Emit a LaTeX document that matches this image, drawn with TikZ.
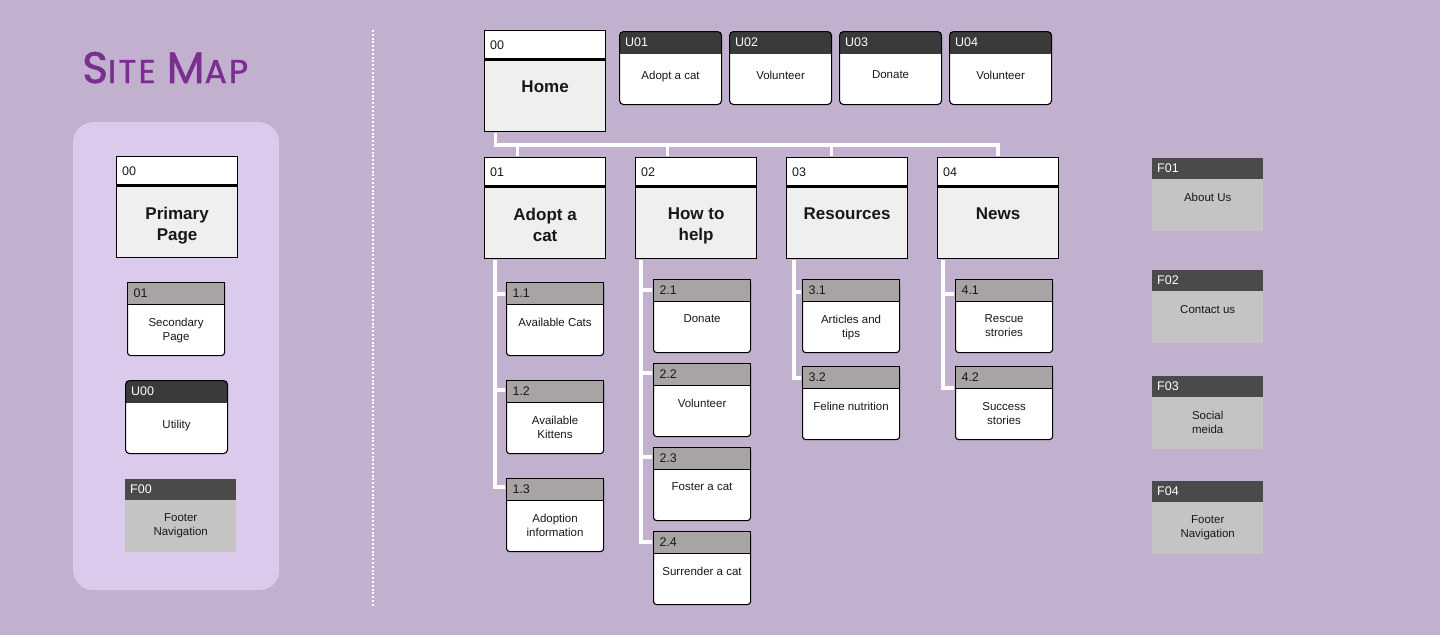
\documentclass[tikz,border=0pt]{standalone}
\usepackage{fontspec}
\setmainfont{Liberation Sans}
\newfontfamily\titlefont{Poppins}[FakeBold=1.2, LetterSpace=7]
\usetikzlibrary{positioning}
\definecolor{bgcol}{RGB}{193,177,207}
\definecolor{panelcol}{RGB}{220,202,237}
\definecolor{titlecol}{RGB}{122,46,143}
\definecolor{primbody}{RGB}{239,239,239}
\definecolor{secgray}{RGB}{168,164,164}
\definecolor{utilgray}{RGB}{58,58,58}
\definecolor{footgray}{RGB}{74,74,74}
\definecolor{footbody}{RGB}{196,196,196}
\definecolor{ink}{RGB}{24,24,24}

\begin{document}
\begin{tikzpicture}[x=1pt, y=-1pt,
	every node/.style={inner sep=0pt, text=ink, font=\fontsize{11.5}{14}\selectfont},
	primbox/.style={draw, line width=1.2pt, fill=primbody, minimum width=121pt, minimum height=101pt, anchor=north west,
		path picture={\fill[white] (path picture bounding box.north west) rectangle ([yshift=-29pt]path picture bounding box.north east);
			\draw[line width=2.4pt] ([yshift=-29pt]path picture bounding box.north west) -- ([yshift=-29pt]path picture bounding box.north east);}},
	secbox/.style={draw, line width=1.1pt, fill=white, rounded corners=3pt, minimum width=97pt, minimum height=73pt, anchor=north west},
	sechd/.style={draw, line width=1.1pt, fill=secgray, minimum width=97pt, minimum height=22pt, inner xsep=6pt, text width=85pt, align=left, anchor=north west, font=\fontsize{12.5}{14}\selectfont},
	utilbox/.style={draw, line width=1.1pt, fill=white, rounded corners=4pt, minimum width=102pt, minimum height=73pt, anchor=north west,
		path picture={\fill[utilgray, sharp corners] (path picture bounding box.north west) rectangle ([yshift=-22pt]path picture bounding box.north east);}},
	footbox/.style={fill=footbody, minimum width=111pt, minimum height=73pt, anchor=north west,
		path picture={\fill[footgray] (path picture bounding box.north west) rectangle ([yshift=-21pt]path picture bounding box.north east);}},
	primtxt/.style={font=\bfseries\fontsize{17}{21}\selectfont, align=center, anchor=north},
	subtxt/.style={align=center, anchor=north},
	codetxt/.style={anchor=west, font=\fontsize{12.5}{14}\selectfont},
	wire/.style={draw=white, line width=3.6pt, shorten <=0.6pt, shorten >=0.6pt}]
	\useasboundingbox (0,0) rectangle (1440,635);
	\fill[bgcol] (0,0) rectangle (1440,635);

	% legend
	\node[anchor=base west, text=titlecol] (title) at (82,83) {\titlefont\fontsize{44}{44}\selectfont S\fontsize{33}{33}\selectfont ITE \fontsize{44}{44}\selectfont M\fontsize{33}{33}\selectfont AP};
	\node[fill=panelcol, rounded corners=20pt, minimum width=206pt, minimum height=468pt, anchor=north west] (legend) at (73,122) {};
	\coordinate (dtop) at (373,30);
	\coordinate (dbot) at (373,606);
	\draw[white, line width=2.6pt, dash pattern=on 2pt off 1.8pt] (dtop) -- (dbot);

	% primary pages
	\foreach \n/\x/\y/\c/\t in {lprim/116/156/00/{Primary\\Page}, home/484/30/00/Home, p01/484/157/01/{Adopt a\\cat},
		p02/635/157/02/{How to\\help}, p03/786/157/03/Resources, p04/937/157/04/News}{
		\node[primbox] (\n) at (\x,\y) {};
		\node[codetxt] (\n-c) at ([shift={(6,15)}]\n.north west) {\c};
		\node[primtxt] (\n-t) at ([yshift=-50.5pt]\n.north) {\t};
	}

	% secondary pages
	\foreach \n/\x/\y/\c/\t in {lsec/127/282/01/{Secondary\\Page}, c11/506/282/1.1/Available Cats, c12/506/380/1.2/{Available\\Kittens},
		c13/506/478/1.3/{Adoption\\information}, c21/653/279/2.1/Donate, c22/653/363/2.2/Volunteer, c23/653/447/2.3/Foster a cat,
		c24/653/531/2.4/Surrender a cat, c31/802/279/3.1/{Articles and\\tips}, c32/802/366/3.2/Feline nutrition,
		c41/955/279/4.1/{Rescue\\strories}, c42/955/366/4.2/{Success\\stories}}{
		\node[secbox] (\n) at (\x,\y) {};
		\node[sechd] (\n-c) at (\n.north west) {\c};
		\node[subtxt] (\n-t) at ([yshift=-35.8pt]\n.north) {\t};
	}

	% utility
	\foreach \n/\x/\y/\c/\t in {lutil/125/380/U00/Utility, u01/619/31/U01/Adopt a cat, u02/729/31/U02/Volunteer,
		u03/839/31/U03/Donate, u04/949/31/U04/Volunteer}{
		\node[utilbox] (\n) at (\x,\y) {};
		\node[codetxt, text=white] (\n-c) at ([shift={(6,11)}]\n.north west) {\c};
		\node[subtxt] (\n-t) at ([yshift=-39.8pt]\n.north) {\t};
	}

	% footer
	\foreach \n/\x/\y/\c/\t in {lfoot/125/479/F00/{Footer\\Navigation}, f01/1152/158/F01/About Us, f02/1152/270/F02/Contact us,
		f03/1152/376/F03/{Social\\meida}, f04/1152/481/F04/{Footer\\Navigation}}{
		\node[footbox] (\n) at (\x,\y) {};
		\node[codetxt, text=white] (\n-c) at ([shift={(5,10.5)}]\n.north west) {\c};
		\node[subtxt] (\n-t) at ([yshift=-34.8pt]\n.north) {\t};
	}

	% connectors
	\coordinate (hub) at ([xshift=11.5pt, yshift=-12.5pt]home.south west);
	\draw[wire] ([xshift=11.5pt]home.south west) -- (hub) -| ([xshift=61pt]p04.north west);
	\foreach \p/\s in {p01/33.5, p02/32.5, p03/45.5}
		\draw[wire] ([xshift=\s pt]\p.north west) -- ++(0,-13.5);
	\foreach \p/\s/\c/\t in {p01/10.7/c11/12, p01/10.7/c12/10, p01/10.7/c13/9, p02/6/c21/11, p02/6/c22/10,
		p02/6/c23/10, p02/6/c24/11, p03/7.7/c31/13, p03/7.7/c32/12, p04/6/c41/15, p04/6/c42/22}
		\draw[wire] ([xshift=\s pt]\p.south west) |- ([yshift=-\t pt]\c.north west);
\end{tikzpicture}
\end{document}
